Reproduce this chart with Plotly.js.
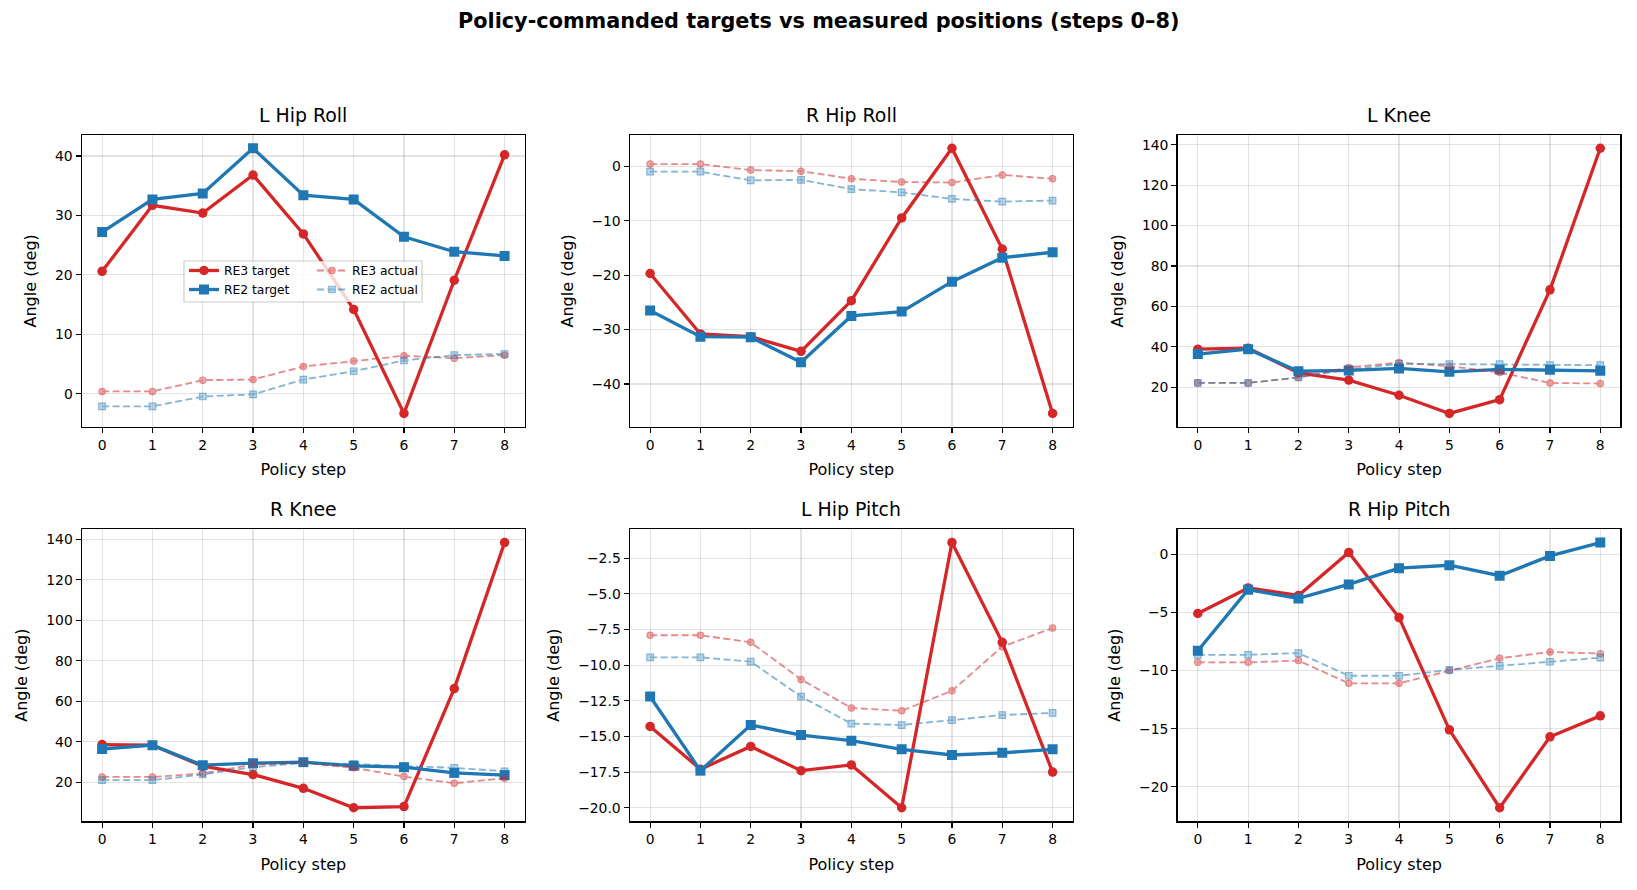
<!DOCTYPE html>
<html>
<head>
<meta charset="utf-8">
<script src="https://cdn.plot.ly/plotly-3.0.1.min.js"></script>
<style>
  body { margin: 0; background: white; }
  #chart { width: 1637px; height: 890px; }
</style>
</head>
<body>
<div id="chart"></div>
<script>
const steps = [0, 1, 2, 3, 4, 5, 6, 7, 8];
const jointNames = ['L Hip Roll', 'R Hip Roll', 'L Knee', 'R Knee', 'L Hip Pitch', 'R Hip Pitch'];
const seriesNames = ['RE3 target', 'RE2 target', 'RE3 actual', 'RE2 actual'];

const lHipRollRe3Target = [20.6, 31.7, 30.4, 36.8, 26.9, 14.2, -3.3, 19.1, 40.2];
const lHipRollRe2Target = [27.2, 32.7, 33.7, 41.3, 33.4, 32.7, 26.4, 23.9, 23.2];
const lHipRollRe3Actual = [0.4, 0.4, 2.3, 2.4, 4.6, 5.5, 6.4, 6.0, 6.5];
const lHipRollRe2Actual = [-2.1, -2.1, -0.45, -0.1, 2.4, 3.8, 5.6, 6.5, 6.7];

const rHipRollRe3Target = [-19.7, -30.8, -31.3, -34.0, -24.7, -9.5, 3.3, -15.2, -45.4];
const rHipRollRe2Target = [-26.5, -31.3, -31.4, -36.0, -27.5, -26.7, -21.2, -16.8, -15.8];
const rHipRollRe3Actual = [0.4, 0.4, -0.7, -0.9, -2.3, -2.9, -3.0, -1.6, -2.3];
const rHipRollRe2Actual = [-1.0, -1.0, -2.6, -2.5, -4.2, -4.8, -6.0, -6.5, -6.3];

const lKneeRe3Target = [38.8, 39.3, 27.1, 23.5, 16.0, 7.0, 13.8, 68.2, 138.3];
const lKneeRe2Target = [36.4, 38.8, 27.9, 28.3, 29.3, 27.6, 28.8, 28.6, 28.1];
const lKneeRe3Actual = [22.1, 22.1, 24.8, 29.8, 32.2, 30.4, 27.3, 22.1, 21.8];
const lKneeRe2Actual = [22.1, 22.1, 24.8, 28.8, 31.6, 31.4, 31.4, 30.9, 30.9];

const rKneeRe3Target = [38.6, 38.3, 27.9, 23.8, 17.0, 7.4, 8.0, 66.2, 138.3];
const rKneeRe2Target = [36.4, 38.3, 28.4, 29.4, 29.9, 28.1, 27.4, 24.6, 23.5];
const rKneeRe3Actual = [22.6, 22.6, 24.3, 28.7, 29.5, 27.1, 22.8, 19.5, 22.0];
const rKneeRe2Actual = [21.0, 21.0, 23.8, 27.4, 29.5, 29.0, 27.9, 27.1, 25.4];

const lHipPitchRe3Target = [-14.3, -17.3, -15.7, -17.4, -17.0, -20.0, -1.4, -8.4, -17.5];
const lHipPitchRe2Target = [-12.2, -17.4, -14.2, -14.9, -15.3, -15.9, -16.3, -16.15, -15.9];
const lHipPitchRe3Actual = [-7.9, -7.9, -8.4, -11.0, -13.0, -13.2, -11.8, -8.7, -7.4];
const lHipPitchRe2Actual = [-9.45, -9.45, -9.75, -12.2, -14.1, -14.2, -13.85, -13.5, -13.35];

const rHipPitchRe3Target = [-5.1, -2.9, -3.55, 0.15, -5.45, -15.1, -21.8, -15.7, -13.9];
const rHipPitchRe2Target = [-8.3, -3.05, -3.8, -2.6, -1.2, -0.95, -1.85, -0.15, 1.0];
const rHipPitchRe3Actual = [-9.3, -9.3, -9.15, -11.1, -11.1, -10.0, -8.95, -8.4, -8.55];
const rHipPitchRe2Actual = [-8.65, -8.65, -8.5, -10.45, -10.45, -9.95, -9.6, -9.25, -8.9];

const panelSeries = [
	[lHipRollRe3Target, lHipRollRe2Target, lHipRollRe3Actual, lHipRollRe2Actual],
	[rHipRollRe3Target, rHipRollRe2Target, rHipRollRe3Actual, rHipRollRe2Actual],
	[lKneeRe3Target, lKneeRe2Target, lKneeRe3Actual, lKneeRe2Actual],
	[rKneeRe3Target, rKneeRe2Target, rKneeRe3Actual, rKneeRe2Actual],
	[lHipPitchRe3Target, lHipPitchRe2Target, lHipPitchRe3Actual, lHipPitchRe2Actual],
	[rHipPitchRe3Target, rHipPitchRe2Target, rHipPitchRe3Actual, rHipPitchRe2Actual],
];

const yTickStep = [10, 10, 20, 20, 2.5, 5];

const W = 1637;
const H = 890;
const font = 'DejaVu Sans, Verdana, sans-serif';

const colDomains = [[82, 524.7], [630, 1072.7], [1177.7, 1620.4]];
const rowDomains = [[135, 426.7], [529.3, 821]];

const red = '#d62728';
const blue = '#1f77b4';

const styles = [
	{ color: red, width: 3.3, dash: 'solid', symbol: 'circle', size: 9.5, opacity: 1 },
	{ color: blue, width: 3.3, dash: 'solid', symbol: 'square', size: 10, opacity: 1 },
	{ color: red, width: 1.8, dash: '7px,3.5px', symbol: 'circle', size: 6.3, opacity: 0.55 },
	{ color: blue, width: 1.8, dash: '7px,3.5px', symbol: 'square', size: 6.5, opacity: 0.55 },
];

const traces = [];
const layout = {
	width: W,
	height: H,
	margin: { l: 0, r: 0, t: 0, b: 0 },
	paper_bgcolor: 'white',
	plot_bgcolor: 'white',
	font: { family: font, color: 'black', size: 13.9 },
	showlegend: true,
	annotations: [],
	shapes: [],
};

panelSeries.forEach((series, p) => {
	const n = p + 1;
	const xa = n === 1 ? 'x' : 'x' + n;
	const ya = n === 1 ? 'y' : 'y' + n;
	const col = p % 3;
	const row = Math.floor(p / 3);

	series.forEach((vals, s) => {
		const st = styles[s];
		const isActual = s >= 2;
		traces.push({
			x: steps,
			y: vals,
			xaxis: xa,
			yaxis: ya,
			type: 'scatter',
			mode: 'lines+markers',
			name: seriesNames[s],
			legend: isActual ? 'legend2' : 'legend',
			showlegend: p === 0,
			opacity: st.opacity,
			line: { color: st.color, width: st.width, dash: st.dash },
			marker: {
				symbol: st.symbol,
				size: st.size,
				color: isActual ? (s === 2 ? 'rgba(214,39,40,0.7)' : 'rgba(31,119,180,0.55)') : st.color,
				line: { color: st.color, width: isActual ? 1.2 : 0 },
			},
			hoverinfo: 'x+y+name',
		});
	});

	const all = [].concat(...series);
	const lo = Math.min(...all);
	const hi = Math.max(...all);
	const pad = (hi - lo) * 0.05;

	const xd = colDomains[col];
	const yd = rowDomains[row];

	const axisCommon = {
		showline: true,
		mirror: true,
		linecolor: 'black',
		linewidth: 1.5,
		ticks: 'outside',
		ticklen: 5,
		tickwidth: 1.1,
		tickcolor: 'black',
		showgrid: true,
		gridcolor: 'rgba(0,0,0,0.11)',
		gridwidth: 1.2,
		zeroline: false,
		tickfont: { family: font, size: 13.9, color: 'black' },
	};

	layout[n === 1 ? 'xaxis' : 'xaxis' + n] = Object.assign({}, axisCommon, {
		domain: [xd[0] / W, xd[1] / W],
		anchor: ya,
		range: [-0.4, 8.4],
		tickmode: 'linear',
		tick0: 0,
		dtick: 1,
		title: { text: 'Policy step', font: { family: font, size: 16, color: 'black' }, standoff: 12 },
	});

	layout[n === 1 ? 'yaxis' : 'yaxis' + n] = Object.assign({}, axisCommon, {
		domain: [1 - yd[1] / H, 1 - yd[0] / H],
		anchor: xa,
		range: [lo - pad, hi + pad],
		tickmode: 'linear',
		tick0: 0,
		dtick: yTickStep[p],
		tickformat: yTickStep[p] === 2.5 ? '.1f' : '',
		title: { text: 'Angle (deg)', font: { family: font, size: 16, color: 'black' }, standoff: 14 },
	});

	layout.annotations.push({
		text: jointNames[p],
		xref: 'paper',
		yref: 'paper',
		x: (xd[0] + xd[1]) / 2 / W,
		y: 1 - (yd[0] - 20) / H,
		xanchor: 'center',
		yanchor: 'middle',
		showarrow: false,
		font: { family: font, size: 18.9, color: 'black' },
	});
});

layout.annotations.push({
	text: '<b>Policy-commanded targets vs measured positions (steps 0–8)</b>',
	xref: 'paper',
	yref: 'paper',
	x: 0.5,
	y: 1 - 21 / H,
	xanchor: 'center',
	yanchor: 'middle',
	showarrow: false,
	font: { family: font, size: 20.8, color: 'black' },
});

// legend frame shared by both legend columns
layout.shapes.push({
	type: 'rect',
	xref: 'paper',
	yref: 'paper',
	x0: 184 / W,
	x1: 422 / W,
	y0: 1 - 302 / H,
	y1: 1 - 261 / H,
	layer: 'above',
	fillcolor: 'rgba(255,255,255,0.8)',
	line: { color: 'rgba(0,0,0,0.2)', width: 1.2 },
});

const legendCommon = {
	bgcolor: 'rgba(0,0,0,0)',
	borderwidth: 0,
	font: { family: font, size: 12.3, color: 'black' },
	itemwidth: 30,
	tracegroupgap: 0,
	yanchor: 'top',
	xanchor: 'left',
	orientation: 'v',
	traceorder: 'normal',
};
layout.legend = Object.assign({}, legendCommon, { x: 184 / W, y: 1 - 256 / H });
layout.legend2 = Object.assign({}, legendCommon, { x: 312 / W, y: 1 - 256 / H });

Plotly.newPlot('chart', traces, layout, { displayModeBar: false, staticPlot: true });
</script>
</body>
</html>
